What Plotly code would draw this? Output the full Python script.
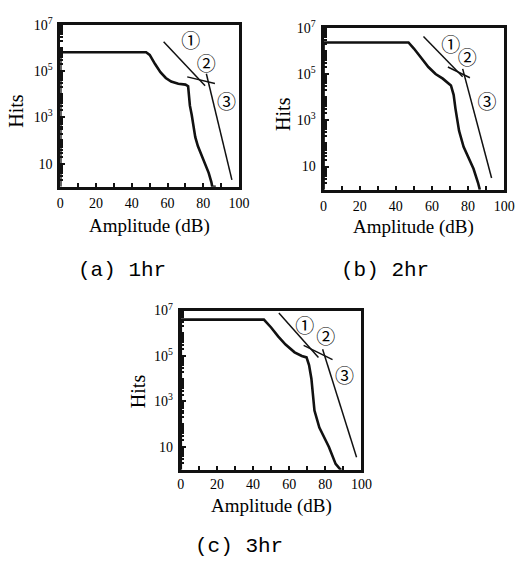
import plotly.graph_objects as go

W, H = 523, 561

# ---------------- data ----------------
amp_a = [0, 0, 48, 50, 53, 56, 59, 62, 66, 70, 71.5, 72, 72.5, 73.5, 74.5, 75.5, 77, 79, 81, 83, 84.5, 85, 87]
hits_a = [1, 6.5e5, 6.5e5, 5.0e5, 2.0e5, 8.9e4, 5.0e4, 3.5e4, 2.8e4, 2.6e4, 2.2e4, 1.0e4, 3.2e3, 1.3e3,
          4.0e2, 1.4e2, 56, 22, 10, 4, 1.6, 1, 1]

amp_b = [0, 0, 47, 50, 54, 58, 62, 66, 70.5, 72, 73, 74, 75, 77.5, 80, 83, 85.5, 86.5]
hits_b = [1, 2.3e6, 2.3e6, 1.26e6, 5.0e5, 2.0e5, 1.0e5, 6.3e4, 3.2e4, 1.26e4, 3.2e3, 1.0e3, 3.5e2,
          71, 25, 8, 2, 1]

amp_c = [0, 0, 46, 50, 54, 58, 63, 67, 69.6, 71, 72.3, 73, 74, 76.7, 79, 82, 85.7, 88.4, 89]
hits_c = [1, 4.0e6, 4.0e6, 1.8e6, 7.1e5, 3.2e5, 1.45e5, 1.0e5, 8.7e4, 4.0e4, 1.0e4, 2.5e3, 4.0e2,
          71, 32, 10, 1.8, 1, 1]

# reference lines (1), (2), (3): [start, end]
line1_a = ([57.8, 81.0], [1.86e6, 2.34e4])
line2_a = ([71.0, 86.5], [5.6e4, 2.9e4])
line3_a = ([81.7, 96.0], [7.6e4, 2.0])

line1_b = ([55.3, 77.0], [4.2e6, 7.6e4])
line2_b = ([68.8, 81.0], [2.0e5, 6.9e4])
line3_b = ([77.0, 93.0], [1.66e5, 3.2])

line1_c = ([54.3, 76.2], [7.8e6, 8.7e4])
line2_c = ([68.0, 84.0], [2.95e5, 6.9e4])
line3_c = ([78.5, 97.3], [2.0e5, 3.5])

# circled labels positions
lab_text = ["\u2460", "\u2461", "\u2462"]
lab_a = ([73.0, 81.7, 93.0], [1.6e6, 1.6e5, 3.7e3])
lab_b = ([70.4, 79.5, 90.5], [1.4e6, 4.0e5, 5.0e3])
lab_c = ([68.6, 80.3, 90.7], [1.7e6, 5.4e5, 1.0e4])

captions = ["(a) 1hr", "(b) 2hr", "(c) 3hr"]

x_tickvals = [0, 20, 40, 60, 80, 100]
x_ticktext = ["0", "20", "40", "60", "80", "100"]
x_minor = [10, 30, 50, 70, 90]
y_tickvals = [10, 1e3, 1e5, 1e7]
y_ticktext = ["10", "10<sup>3</sup>", "10<sup>5</sup>", "10<sup>7</sup>"]
y_minor = [m * 10 ** k for k in range(0, 7) for m in range(1, 10)
           if not (m == 1 and 10 ** k in (10, 1e3, 1e5))]

# ---------------- layout helpers ----------------
def px(p):
    return p / W

def py(p):
    return 1 - p / H

panels = [
    dict(curve=(amp_a, hits_a), lines=[line1_a, line2_a, line3_a], labs=lab_a,
         box=(58, 242, 15, 180), cap=(121, 265), xt=(150, 220), yt=(13, 103), so=2),
    dict(curve=(amp_b, hits_b), lines=[line1_b, line2_b, line3_b], labs=lab_b,
         box=(329, 515, 18, 183), cap=(392, 265), xt=(422, 221), yt=(287, 106), so=2),
    dict(curve=(amp_c, hits_c), lines=[line1_c, line2_c, line3_c], labs=lab_c,
         box=(182, 368, 306, 468), cap=(242, 546), xt=(275, 505), yt=(138, 388), so=0),
]

fig = go.Figure()
annotations = []
tick_font = dict(family="Liberation Serif", size=14, color="#000")

for i, p in enumerate(panels):
    xa = "x" if i == 0 else f"x{i+1}"
    ya = "y" if i == 0 else f"y{i+1}"
    xkey = "xaxis" if i == 0 else f"xaxis{i+1}"
    ykey = "yaxis" if i == 0 else f"yaxis{i+1}"
    x0, x1, y0, y1 = p["box"]

    fig.add_trace(go.Scatter(x=p["curve"][0], y=p["curve"][1], mode="lines",
                             line=dict(color="#111", width=2.6),
                             xaxis=xa, yaxis=ya, showlegend=False))
    for ln in p["lines"]:
        fig.add_trace(go.Scatter(x=ln[0], y=ln[1], mode="lines",
                                 line=dict(color="#111", width=1.5),
                                 xaxis=xa, yaxis=ya, showlegend=False))
    fig.add_trace(go.Scatter(x=p["labs"][0], y=p["labs"][1], mode="text",
                             text=lab_text,
                             textfont=dict(family="Noto Sans CJK KR", size=19, color="#000"),
                             xaxis=xa, yaxis=ya, showlegend=False))

    fig.update_layout({
        xkey: dict(domain=[px(x0), px(x1)], anchor=ya, range=[0, 100],
                   tickmode="array", tickvals=x_tickvals, ticktext=x_ticktext,
                   ticks="inside", ticklen=4, tickwidth=2, tickcolor="#111",
                   minor=dict(tickvals=x_minor, ticks="inside", ticklen=4, tickwidth=2,
                              tickcolor="#111"),
                   showline=True, linecolor="#111", linewidth=2.5, mirror=True,
                   showgrid=False, zeroline=False, tickfont=tick_font,
                   ticklabelstandoff=p["so"]),
        ykey: dict(domain=[py(y1), py(y0)], anchor=xa, type="log", range=[0, 7],
                   tickmode="array", tickvals=y_tickvals, ticktext=y_ticktext,
                   ticks="inside", ticklen=5, tickwidth=2, tickcolor="#111",
                   minor=dict(tickvals=y_minor, ticks="inside", ticklen=3, tickwidth=1.5,
                              tickcolor="#111"),
                   showline=True, linecolor="#111", linewidth=3, mirror=True,
                   showgrid=False, zeroline=False, tickfont=tick_font, ticklabelstandoff=2),
    })

    annotations.append(dict(text="Amplitude (dB)", x=px(p["xt"][0]), y=py(p["xt"][1]),
                            xref="paper", yref="paper", showarrow=False,
                            xanchor="center", yanchor="middle",
                            font=dict(family="Liberation Serif", size=19, color="#000")))
    annotations.append(dict(text="Hits", x=px(p["yt"][0]), y=py(p["yt"][1]),
                            xref="paper", yref="paper", showarrow=False, textangle=-90,
                            xanchor="center", yanchor="middle",
                            font=dict(family="Liberation Serif", size=20, color="#000")))
    annotations.append(dict(text=captions[i], x=px(p["cap"][0]), y=py(p["cap"][1]),
                            xref="paper", yref="paper", showarrow=False,
                            xanchor="center", yanchor="middle",
                            font=dict(family="Liberation Mono", size=21, color="#000")))

fig.update_layout(width=W, height=H, margin=dict(l=0, r=0, t=0, b=0),
                  paper_bgcolor="white", plot_bgcolor="white",
                  annotations=annotations, showlegend=False)

fig.write_html("out.html")
